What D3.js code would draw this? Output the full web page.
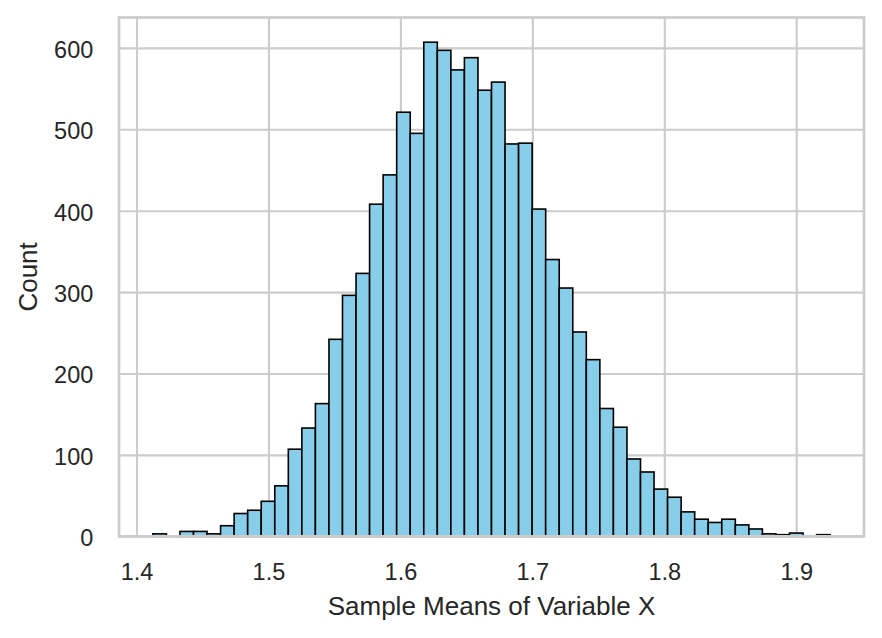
<!DOCTYPE html>
<html>
<head>
<meta charset="utf-8">
<script src="https://cdn.jsdelivr.net/npm/d3@7"></script>
<style>
  html, body { margin: 0; padding: 0; background: #ffffff; }
  svg { display: block; }
</style>
</head>
<body>
<svg id="chart" width="882" height="638"></svg>
<script>
// ---- data ----
const binStart = 1.4124;
const binWidth = 0.010266;
const counts = [3,0,6,6,3,13,28,32,43,62,107,133,163,242,296,323,408,444,521,495,
                607,597,573,588,548,558,482,483,402,340,305,251,217,157,134,95,79,58,48,30,
                21,17,21,14,9,3,2,4,0,2];
const xTicks = [1.4, 1.5, 1.6, 1.7, 1.8, 1.9];
const yTicks = [0, 100, 200, 300, 400, 500, 600];
const xLabel = "Sample Means of Variable X";
const yLabel = "Count";

const bins = counts.map((c, i) => ({x0: binStart + i * binWidth, x1: binStart + (i + 1) * binWidth, count: c}));

// ---- layout ----
const L = 119, R = 864, T = 17.5, B = 536.3;
const FONT = "Arial, 'Liberation Sans', Helvetica, sans-serif";
const TEXT = "#262626", GRID = "#cccccc";

const xmin = bins[0].x0, xmax = bins[bins.length - 1].x1;
const xpad = (xmax - xmin) * 0.05;
const x = d3.scaleLinear().domain([xmin - xpad, xmax + xpad]).range([L, R]);
const y = d3.scaleLinear().domain([0, d3.max(counts) * 1.05]).range([B, T]);

const svg = d3.select("#chart");

// grid + ticks
const xAxis = svg.append("g").attr("transform", `translate(0,${B})`)
  .call(d3.axisBottom(x).tickValues(xTicks).tickFormat(d3.format(".1f"))
        .tickSize(-(B - T)).tickPadding(27));
const yAxis = svg.append("g").attr("transform", `translate(${L},0)`)
  .call(d3.axisLeft(y).tickValues(yTicks).tickFormat(d3.format("d"))
        .tickSize(-(R - L)).tickPadding(25.7));

[xAxis, yAxis].forEach(g => {
  g.select(".domain").remove();
  g.selectAll(".tick line").attr("stroke", GRID).attr("stroke-width", 2.1);
  g.selectAll(".tick text").attr("fill", TEXT).attr("font-family", FONT).attr("font-size", 23.5);
});
yAxis.selectAll(".tick text").attr("dy", "0.40em");

// bars
svg.append("g").selectAll("rect").data(bins.filter(d => d.count > 0)).join("rect")
  .attr("x", d => x(d.x0))
  .attr("width", d => x(d.x1) - x(d.x0))
  .attr("y", d => y(d.count))
  .attr("height", d => y(0) - y(d.count))
  .attr("fill", "#87ceeb")
  .attr("stroke", "#000000")
  .attr("stroke-width", 1.6);

// spines
svg.append("rect")
  .attr("x", L).attr("y", T).attr("width", R - L).attr("height", B - T)
  .attr("fill", "none").attr("stroke", GRID).attr("stroke-width", 2.7);

// axis labels
svg.append("text")
  .attr("x", (L + R) / 2).attr("y", 615)
  .attr("text-anchor", "middle")
  .attr("font-family", FONT).attr("font-size", 26).attr("fill", TEXT)
  .text(xLabel);
svg.append("text")
  .attr("transform", `translate(37,${(T + B) / 2}) rotate(-90)`)
  .attr("text-anchor", "middle")
  .attr("font-family", FONT).attr("font-size", 26).attr("fill", TEXT)
  .text(yLabel);
</script>
</body>
</html>
